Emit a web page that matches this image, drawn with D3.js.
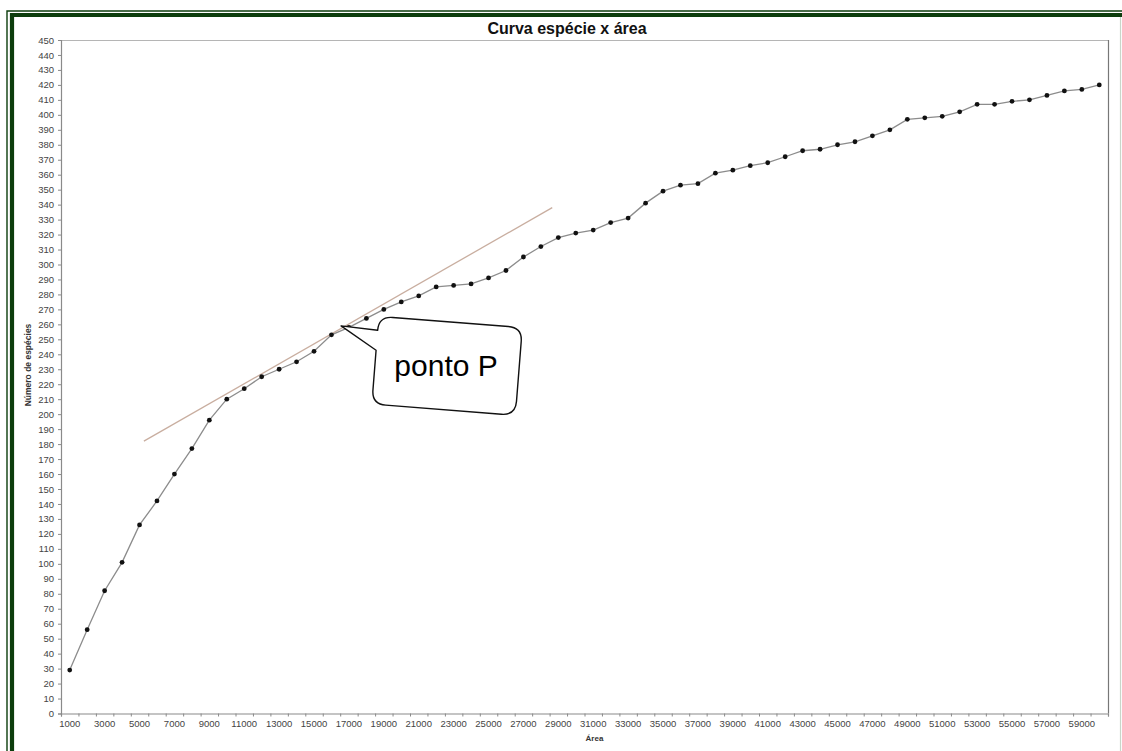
<!DOCTYPE html>
<html>
<head>
<meta charset="utf-8">
<script src="https://cdn.jsdelivr.net/npm/d3@7"></script>
<style>
  html, body { margin: 0; padding: 0; background: #fff; }
  svg { display: block; font-family: "Liberation Sans", Arial, sans-serif; }
</style>
</head>
<body>
<svg id="chart" width="1122" height="751"></svg>
<script>
// Species-area curve: cumulative number of species by sampled area
const areas = [1000, 2000, 3000, 4000, 5000, 6000, 7000, 8000, 9000, 10000,
  11000, 12000, 13000, 14000, 15000, 16000, 17000, 18000, 19000, 20000,
  21000, 22000, 23000, 24000, 25000, 26000, 27000, 28000, 29000, 30000,
  31000, 32000, 33000, 34000, 35000, 36000, 37000, 38000, 39000, 40000,
  41000, 42000, 43000, 44000, 45000, 46000, 47000, 48000, 49000, 50000,
  51000, 52000, 53000, 54000, 55000, 56000, 57000, 58000, 59000, 60000];

const species = [29, 56, 82, 101, 126, 142, 160, 177, 196, 210,
  217, 225, 230, 235, 242, 253, 258, 264, 270, 275,
  279, 285, 286, 287, 291, 296, 305, 312, 318, 321,
  323, 328, 331, 341, 349, 353, 354, 361, 363, 366,
  368, 372, 376, 377, 380, 382, 386, 390, 397, 398,
  399, 402, 407, 407, 409, 410, 413, 416, 417, 420];

const xTickLabels = [1000, 3000, 5000, 7000, 9000, 11000, 13000, 15000, 17000, 19000,
  21000, 23000, 25000, 27000, 29000, 31000, 33000, 35000, 37000, 39000,
  41000, 43000, 45000, 47000, 49000, 51000, 53000, 55000, 57000, 59000];

const yTickValues = [0, 10, 20, 30, 40, 50, 60, 70, 80, 90, 100, 110, 120, 130, 140,
  150, 160, 170, 180, 190, 200, 210, 220, 230, 240, 250, 260, 270, 280, 290,
  300, 310, 320, 330, 340, 350, 360, 370, 380, 390, 400, 410, 420, 430, 440, 450];

// Tangent line drawn at point P (area, species)
const tangentX = [5250, 28650];
const tangentY = [182, 338];

// Callout anchor (area, species)
const pointP = { area: 16550, value: 259, label: "ponto P" };

const titleText = "Curva espécie x área";
const xTitle = "Área";
const yTitle = "Número de espécies";

// ---- layout ----
const plot = { left: 61, right: 1108, top: 40, bottom: 713.5 };
const svg = d3.select("#chart");

const y = d3.scaleLinear().domain([0, 450]).range([plot.bottom, plot.top]);
const xBand = d3.scaleBand().domain(areas).range([plot.left, plot.right]);
const half = 500;
const xLin = d3.scaleLinear()
  .domain([areas[0] - half, areas[areas.length - 1] + half])
  .range([plot.left, plot.right]);
const xc = a => xBand(a) + xBand.bandwidth() / 2;

// ---- frame ----
const green = "#0c3d0c";
const frame = svg.append("g");
frame.append("path")
  .attr("d", "M7,760 L7,11 L1130,11")
  .attr("fill", "none").attr("stroke", green).attr("stroke-width", 1.4);
frame.append("path")
  .attr("d", "M12,760 L12,15 L1130,15")
  .attr("fill", "none").attr("stroke", green).attr("stroke-width", 4.2);
frame.append("line")
  .attr("x1", 1120.5).attr("x2", 1120.5).attr("y1", 17).attr("y2", 751)
  .attr("stroke", "#c9d6c9").attr("stroke-width", 1.2);

// ---- title ----
svg.append("text")
  .attr("x", 567).attr("y", 34)
  .attr("text-anchor", "middle")
  .attr("font-size", 16).attr("font-weight", "bold").attr("fill", "#111")
  .text(titleText);

// ---- plot border (top, right) ----
svg.append("line")
  .attr("x1", plot.left).attr("x2", plot.right)
  .attr("y1", plot.top + 0.5).attr("y2", plot.top + 0.5)
  .attr("stroke", "#b5b5b5").attr("stroke-width", 1.2);
svg.append("line")
  .attr("x1", plot.right + 0.5).attr("x2", plot.right + 0.5)
  .attr("y1", plot.top).attr("y2", plot.bottom)
  .attr("stroke", "#777").attr("stroke-width", 1.2);

// ---- y axis ----
const yAxis = svg.append("g")
  .attr("transform", `translate(${plot.left},0)`)
  .call(d3.axisLeft(y).tickValues(yTickValues).tickSize(3).tickPadding(4));
yAxis.select(".domain").attr("stroke", "#8a8a8a").attr("stroke-width", 1.2);
yAxis.selectAll(".tick line").attr("stroke", "#8a8a8a");
yAxis.selectAll(".tick text")
  .attr("font-size", 9.5).attr("fill", "#444")
  .attr("font-family", "'Liberation Sans', Arial, sans-serif");

// ---- x axis: tick marks at category boundaries ----
const boundaries = areas.map(a => a - half).concat([areas[areas.length - 1] + half]);
const xAxisTicks = svg.append("g")
  .attr("transform", `translate(0,${plot.bottom})`)
  .call(d3.axisBottom(xLin).tickValues(boundaries).tickFormat("").tickSize(3));
xAxisTicks.select(".domain").attr("stroke", "#8a8a8a").attr("stroke-width", 1.2);
xAxisTicks.selectAll(".tick line").attr("stroke", "#8a8a8a");

// ---- x axis labels centred on categories ----
const xAxisLabels = svg.append("g")
  .attr("transform", `translate(0,${plot.bottom})`)
  .call(d3.axisBottom(xBand).tickValues(xTickLabels).tickSize(0).tickPadding(6.5));
xAxisLabels.select(".domain").remove();
xAxisLabels.selectAll(".tick text")
  .attr("font-size", 9.5).attr("fill", "#444")
  .attr("font-family", "'Liberation Sans', Arial, sans-serif");

// ---- axis titles ----
svg.append("text")
  .attr("x", (plot.left + plot.right) / 2 + 10).attr("y", 741)
  .attr("text-anchor", "middle")
  .attr("font-size", 8).attr("font-weight", "bold").attr("fill", "#333")
  .text(xTitle);
svg.append("text")
  .attr("transform", "translate(31,365) rotate(-90)")
  .attr("text-anchor", "middle")
  .attr("font-size", 8.5).attr("font-weight", "bold").attr("fill", "#333")
  .text(yTitle);

// ---- tangent line ----
svg.append("line")
  .attr("x1", xLin(tangentX[0])).attr("y1", y(tangentY[0]))
  .attr("x2", xLin(tangentX[1])).attr("y2", y(tangentY[1]))
  .attr("stroke", "#c9aea0").attr("stroke-width", 1.3);

// ---- series ----
const pts = areas.map((a, i) => ({ a, v: species[i] }));
svg.append("path")
  .datum(pts)
  .attr("fill", "none")
  .attr("stroke", "#8c8c8c")
  .attr("stroke-width", 1.3)
  .attr("d", d3.line().x(d => xc(d.a)).y(d => y(d.v)));
svg.append("g").selectAll("circle")
  .data(pts).join("circle")
  .attr("cx", d => xc(d.a)).attr("cy", d => y(d.v))
  .attr("r", 2.4).attr("fill", "#111");

// ---- callout ----
const tip = [xLin(pointP.area), y(pointP.value)];
const center = [tip[0] + 106, tip[1] + 40];
const angle = 4.5;
const rad = angle * Math.PI / 180;
const dx = tip[0] - center[0], dy = tip[1] - center[1];
const lt = [dx * Math.cos(rad) + dy * Math.sin(rad), -dx * Math.sin(rad) + dy * Math.cos(rad)];
const hw = 72, hh = 44, r = 14;
const calloutPath = [
  `M${-hw + r},${-hh}`,
  `L${hw - r},${-hh}`, `Q${hw},${-hh} ${hw},${-hh + r}`,
  `L${hw},${hh - r}`, `Q${hw},${hh} ${hw - r},${hh}`,
  `L${-hw + r},${hh}`, `Q${-hw},${hh} ${-hw},${hh - r}`,
  `L${-hw},-10`,
  `L${lt[0]},${lt[1]}`,
  `L${-hw},${-hh + r}`,
  `Q${-hw},${-hh} ${-hw + r},${-hh}`, "Z"
].join(" ");
svg.append("path")
  .attr("transform", `translate(${center[0]},${center[1]}) rotate(${angle})`)
  .attr("d", calloutPath)
  .attr("fill", "#fff").attr("stroke", "#111").attr("stroke-width", 1.4)
  .attr("stroke-linejoin", "round");
svg.append("text")
  .attr("x", center[0] - 1).attr("y", center[1] + 10)
  .attr("text-anchor", "middle")
  .attr("font-size", 30).attr("fill", "#000")
  .text(pointP.label);
</script>
</body>
</html>
